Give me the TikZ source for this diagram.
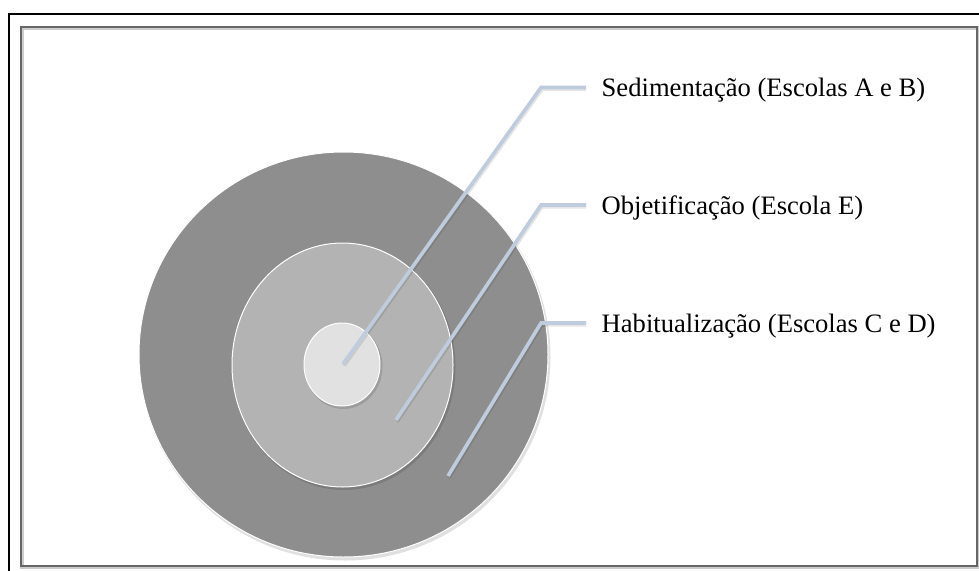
\documentclass[tikz,border=0pt]{standalone}
\usepackage{fontspec}
\setmainfont{Liberation Serif}
\usetikzlibrary{shapes.geometric}
\definecolor{ringA}{HTML}{8E8E8E}
\definecolor{ringB}{HTML}{B3B3B3}
\definecolor{ringC}{HTML}{E1E1E1}
\definecolor{leader}{HTML}{BFCCDD}
\definecolor{frame}{HTML}{666666}
\tikzset{
  ring/.style={ellipse, inner sep=0pt, draw=white, line width=1pt},
  ringshadow/.style={ellipse, inner sep=0pt, fill=black, opacity=0.12},
  leaderline/.style={draw=leader, line width=3.6pt, line join=miter},
  leadershadow/.style={draw=black, opacity=0.10, line width=4pt},
  label/.style={anchor=west, inner xsep=15.5pt, inner ysep=0pt, text height=18.5pt, text depth=0pt, font=\fontsize{26.6}{30}\selectfont}
}
\begin{document}
\begin{tikzpicture}[x=1pt,y=-1pt]
\useasboundingbox (0,0) rectangle (979,570);
\fill[white] (0,0) rectangle (979,570);
% frames
\draw[line width=2.4pt] (9,572) -- (9,14) -- (981,14);
\draw[black!20, line width=3.5pt] (22,28) rectangle (977.5,567);
\draw[frame, line width=2.2pt] (21,27) rectangle (977,566);
% rings
\node[ringshadow, minimum width=411pt, minimum height=407pt] at (345,357) {};
\node[ring, fill=ringA, minimum width=409pt, minimum height=405pt] (c1) at (343.5,354.5) {};
\node[ringshadow, minimum width=223pt, minimum height=246pt] at (344,367) {};
\node[ring, fill=ringB, minimum width=221pt, minimum height=244pt] (c2) at (342.5,365) {};
\node[ringshadow, minimum width=78pt, minimum height=85pt] at (343.5,366.5) {};
\node[ring, fill=ringC, minimum width=76pt, minimum height=83pt] (c3) at (342,364.5) {};
% anchor points
\coordinate (p1) at (343,364);
\coordinate (p2) at (396,420);
\coordinate (p3) at (448,476);
\coordinate (k1) at (541,87.5);
\coordinate (k2) at (541,205);
\coordinate (k3) at (541,323);
% labels
\node[label] (t1) at (586,87.5) {Sedimentação (Escolas A e B)};
\node[label] (t2) at (586,205) {Objetificação (Escola E)};
\node[label] (t3) at (586,323) {Habitualização (Escolas C e D)};
% leaders
\foreach \i in {1,2,3}{
  \draw[leadershadow] ([shift={(1,1.5)}]p\i) -- ([shift={(1,1.5)}]k\i) -- ([shift={(0,1.5)}]t\i.west);
  \draw[leaderline] (p\i) -- (k\i) -- (t\i.west);
}
\end{tikzpicture}
\end{document}
